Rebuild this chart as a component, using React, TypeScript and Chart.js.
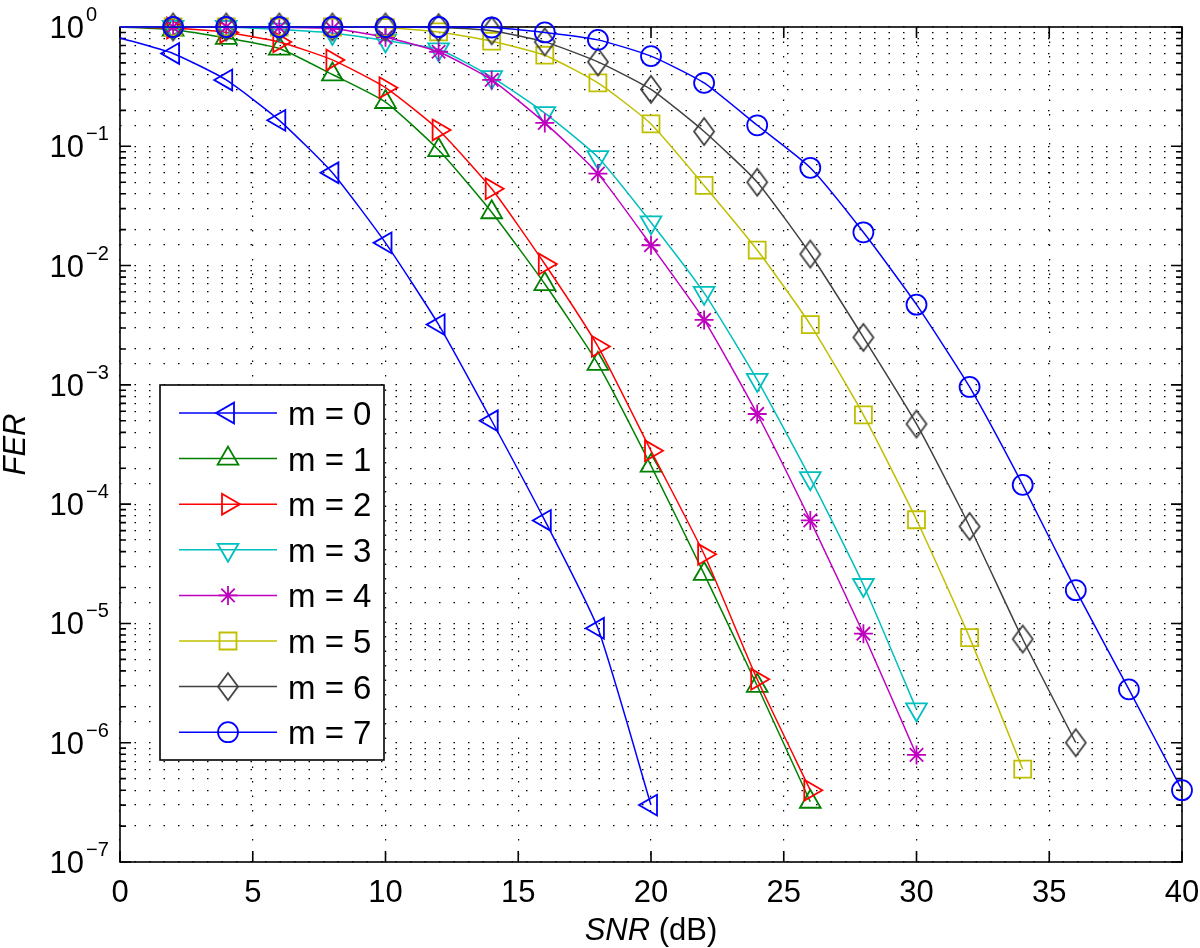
import React, { useEffect, useRef } from "react";
import { Chart, registerables } from "chart.js";
import { drawPoint } from "chart.js/helpers";

Chart.register(...registerables);

// ---------- data ----------
const SNR_DB = [0, 2, 4, 6, 8, 10, 12, 14, 16, 18, 20, 22, 24, 26, 28, 30, 32, 34, 36, 38, 40];

const FER_M0 = [0.81, 0.6, 0.36, 0.165, 0.06, 0.0155, 0.0032, 5.0e-4, 7.3e-5, 9.1e-6, 3.0e-7];
const FER_M1 = [1, 0.95, 0.81, 0.66, 0.4, 0.235, 0.093, 0.028, 0.007, 1.5e-3, 2.1e-4, 2.6e-5, 3.0e-6, 3.2e-7];
const FER_M2 = [1, 0.98, 0.9, 0.75, 0.53, 0.31, 0.137, 0.044, 0.0103, 2.1e-3, 2.8e-4, 3.8e-5, 3.4e-6, 4.0e-7];
const FER_M3 = [1, 1, 1, 0.95, 0.89, 0.77, 0.65, 0.38, 0.19, 0.081, 0.023, 0.0059, 1.1e-3, 1.65e-4, 2.1e-5, 1.9e-6];
const FER_M4 = [1, 1, 1, 0.99, 0.97, 0.82, 0.62, 0.36, 0.157, 0.059, 0.0148, 0.0035, 5.7e-4, 7.3e-5, 8.2e-6, 7.9e-7];
const FER_M5 = [1, 1, 1, 1, 1, 0.99, 0.91, 0.76, 0.58, 0.34, 0.154, 0.047, 0.0135, 0.0032, 5.6e-4, 7.4e-5, 7.6e-6, 6.0e-7];
const FER_M6 = [1, 1, 1, 1, 1, 1, 0.99, 0.93, 0.75, 0.51, 0.3, 0.133, 0.05, 0.0125, 2.5e-3, 4.7e-4, 6.5e-5, 7.4e-6, 1.0e-6];
const FER_M7 = [1, 1, 1, 1, 1, 1, 1, 0.99, 0.9, 0.78, 0.57, 0.34, 0.15, 0.066, 0.019, 4.7e-3, 9.6e-4, 1.45e-4, 1.9e-5, 2.8e-6, 4.0e-7];

const SERIES = [FER_M0, FER_M1, FER_M2, FER_M3, FER_M4, FER_M5, FER_M6, FER_M7];
const SERIES_LABELS = ["m = 0", "m = 1", "m = 2", "m = 3", "m = 4", "m = 5", "m = 6", "m = 7"];
const SERIES_COLORS = ["#0000ff", "#008000", "#ff0000", "#00bfbf", "#bf00bf", "#bfbf00", "#404040", "#0000ff"];

const X_TICKS = [0, 5, 10, 15, 20, 25, 30, 35, 40];
const Y_EXPONENTS = [0, -1, -2, -3, -4, -5, -6, -7];

const X_TITLE_ITALIC = "SNR";
const X_TITLE_REST = " (dB)";
const Y_TITLE = "FER";

// ---------- styles ----------
const FONT = '"Liberation Sans", Arial, Helvetica, sans-serif';

function makeDiamond(color: string): HTMLCanvasElement {
  const c = document.createElement("canvas");
  c.width = 26;
  c.height = 33;
  const ctx = c.getContext("2d")!;
  ctx.strokeStyle = color;
  ctx.lineWidth = 1.8;
  ctx.beginPath();
  ctx.moveTo(13, 3);
  ctx.lineTo(23, 16.5);
  ctx.lineTo(13, 30);
  ctx.lineTo(3, 16.5);
  ctx.closePath();
  ctx.stroke();
  return c;
}

type Marker = { style: any; rotation: number; radius: number };

function markerFor(i: number): Marker {
  switch (i) {
    case 0: return { style: "triangle", rotation: -90, radius: 12 };
    case 1: return { style: "triangle", rotation: 0, radius: 12 };
    case 2: return { style: "triangle", rotation: 90, radius: 12 };
    case 3: return { style: "triangle", rotation: 180, radius: 12 };
    case 4: return { style: "star", rotation: 0, radius: 9.5 };
    case 5: return { style: "rect", rotation: 0, radius: 12 };
    case 6: return { style: makeDiamond(SERIES_COLORS[6]), rotation: 0, radius: 12 };
    default: return { style: "circle", rotation: 0, radius: 10 };
  }
}

export default function App() {
  const ref = useRef<HTMLCanvasElement | null>(null);

  useEffect(() => {
    document.body.style.margin = "0";
    const canvas = ref.current;
    if (!canvas) return;

    const markers = SERIES.map((_, i) => markerFor(i));

    const datasets = SERIES.map((vals, i) => ({
      label: SERIES_LABELS[i],
      data: vals.map((v, k) => ({ x: SNR_DB[k], y: v })),
      borderColor: SERIES_COLORS[i],
      backgroundColor: "rgba(0,0,0,0)",
      borderWidth: 1.5,
      pointStyle: markers[i].style,
      pointRotation: markers[i].rotation,
      pointRadius: vals.map((_, k) => (k === 0 ? 0 : markers[i].radius)),
      pointBorderWidth: 1.8,
      pointBorderColor: SERIES_COLORS[i],
      pointBackgroundColor: "rgba(0,0,0,0)",
      tension: 0.18,
      clip: false as any,
      order: 7 - i,
    }));

    const axesPlugin = {
      id: "matlabAxes",
      beforeDatasetsDraw(chart: any) {
        const { ctx, chartArea: a, scales } = chart;
        const xs = scales.x;
        const ys = scales.y;
        ctx.save();
        ctx.strokeStyle = "#000";
        ctx.lineWidth = 1.6;
        ctx.strokeRect(a.left, a.top, a.right - a.left, a.bottom - a.top);
        ctx.lineWidth = 1.6;
        ctx.beginPath();
        for (const t of X_TICKS) {
          const px = xs.getPixelForValue(t);
          ctx.moveTo(px, a.bottom);
          ctx.lineTo(px, a.bottom - 11);
          ctx.moveTo(px, a.top);
          ctx.lineTo(px, a.top + 11);
        }
        for (const e of Y_EXPONENTS) {
          const py = ys.getPixelForValue(Math.pow(10, e));
          ctx.moveTo(a.left, py);
          ctx.lineTo(a.left + 11, py);
          ctx.moveTo(a.right, py);
          ctx.lineTo(a.right - 11, py);
          if (e > -7) {
            for (let m = 2; m <= 9; m++) {
              const pm = ys.getPixelForValue(m * Math.pow(10, e - 1));
              ctx.moveTo(a.left, pm);
              ctx.lineTo(a.left + 6, pm);
              ctx.moveTo(a.right, pm);
              ctx.lineTo(a.right - 6, pm);
            }
          }
        }
        ctx.stroke();
        ctx.restore();
      },
      afterDraw(chart: any) {
        const { ctx, chartArea: a, scales } = chart;
        const xs = scales.x;
        const ys = scales.y;
        ctx.save();
        ctx.fillStyle = "#000";

        // x tick labels
        ctx.font = `31px ${FONT}`;
        ctx.textAlign = "center";
        ctx.textBaseline = "alphabetic";
        for (const t of X_TICKS) {
          ctx.fillText(String(t), xs.getPixelForValue(t), a.bottom + 40);
        }

        // y tick labels 10^e
        for (const e of Y_EXPONENTS) {
          const py = ys.getPixelForValue(Math.pow(10, e));
          ctx.font = `31px ${FONT}`;
          ctx.textAlign = "right";
          ctx.fillText("10", 84, py + 11);
          ctx.font = `20px ${FONT}`;
          ctx.textAlign = "left";
          ctx.fillText(e === 0 ? "0" : "\u2212" + String(-e), 86, py - 6);
        }

        // x title
        ctx.font = `italic 31px ${FONT}`;
        const w1 = ctx.measureText(X_TITLE_ITALIC).width;
        ctx.font = `31px ${FONT}`;
        const w2 = ctx.measureText(X_TITLE_REST).width;
        const cx = (a.left + a.right) / 2;
        const sx = cx - (w1 + w2) / 2;
        ctx.textAlign = "left";
        ctx.font = `italic 31px ${FONT}`;
        ctx.fillText(X_TITLE_ITALIC, sx, a.bottom + 78);
        ctx.font = `31px ${FONT}`;
        ctx.fillText(X_TITLE_REST, sx + w1, a.bottom + 78);

        // y title
        ctx.save();
        ctx.translate(25, (a.top + a.bottom) / 2);
        ctx.rotate(-Math.PI / 2);
        ctx.textAlign = "center";
        ctx.font = `italic 31px ${FONT}`;
        ctx.fillText(Y_TITLE, 0, 0);
        ctx.restore();

        // legend
        const lx = 160, ly = 385, lw = 224, lh = 375;
        ctx.fillStyle = "#fff";
        ctx.fillRect(lx, ly, lw, lh);
        ctx.strokeStyle = "#000";
        ctx.lineWidth = 1.6;
        ctx.strokeRect(lx, ly, lw, lh);
        for (let i = 0; i < SERIES_LABELS.length; i++) {
          const ry = 413 + i * 45.6;
          ctx.strokeStyle = SERIES_COLORS[i];
          ctx.lineWidth = 1.5;
          ctx.beginPath();
          ctx.moveTo(179, ry);
          ctx.lineTo(277, ry);
          ctx.stroke();
          ctx.fillStyle = "rgba(0,0,0,0)";
          ctx.lineWidth = 1.8;
          drawPoint(ctx, {
            pointStyle: markers[i].style,
            rotation: markers[i].rotation,
            radius: markers[i].radius,
            borderWidth: 1.8,
          } as any, 228, ry);
          ctx.fillStyle = "#000";
          ctx.font = `33px ${FONT}`;
          ctx.textAlign = "left";
          ctx.fillText(SERIES_LABELS[i], 288, ry + 12);
        }
        ctx.restore();
      },
    };

    const chart = new Chart(canvas, {
      type: "line",
      data: { datasets: datasets as any },
      options: {
        animation: false,
        responsive: false,
        events: [],
        layout: { padding: { left: 120, right: 18, top: 27, bottom: 86 } },
        plugins: { legend: { display: false }, tooltip: { enabled: false } },
        elements: { line: { capBezierPoints: true } },
        scales: {
          x: {
            type: "linear",
            min: 0,
            max: 40,
            ticks: { display: false, stepSize: 5 },
            grid: { color: "#000", lineWidth: 1.2, drawTicks: false },
            border: { display: false, dash: [1.5, 13] },
          },
          y: {
            type: "logarithmic",
            min: 1e-7,
            max: 1,
            ticks: { display: false, autoSkip: false },
            grid: { color: "#000", lineWidth: 1.2, drawTicks: false },
            border: { display: false, dash: [1.5, 13] },
          },
        },
      },
      plugins: [axesPlugin],
    });

    return () => chart.destroy();
  }, []);

  return (
    <div style={{ position: "absolute", left: 0, top: 0, width: 1200, height: 948, background: "#fff" }}>
      <canvas ref={ref} width={1200} height={948} style={{ width: 1200, height: 948, display: "block" }} />
    </div>
  );
}
